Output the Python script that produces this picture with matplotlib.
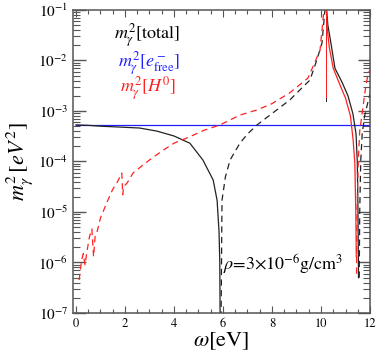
import matplotlib
matplotlib.use("Agg")
import matplotlib.pyplot as plt
from matplotlib.ticker import MultipleLocator, LogLocator, NullFormatter

plt.rcParams['font.family'] = ['STIXGeneral', 'DejaVu Sans']
plt.rcParams['mathtext.fontset'] = 'stix'

# free electron contribution (constant)
free_x = [0.0, 12.0]
free_y = [5.3e-4, 5.3e-4]

# total, positive branch below the first zero
tot1_x = [0.0, 0.5, 1.0, 1.8, 2.6, 3.3, 4.0, 4.65, 5.18, 5.6, 5.76, 5.84, 5.87, 5.885]
tot1_y = [5.3e-4, 5.2e-4, 5.0e-4, 4.8e-4, 4.6e-4, 4.0e-4, 3.2e-4, 2.3e-4, 1.07e-4,
          4.3e-5, 1.7e-5, 4e-6, 1e-6, 5e-8]
# total, negative branch (|value|) up to the pole
tot2_x = [5.92, 5.96, 6.1, 6.29, 6.69, 7.0, 7.39, 8.0, 8.73, 9.2, 9.55, 9.85, 10.04, 10.16, 10.2]
tot2_y = [5e-8, 1.7e-5, 5e-5, 1.07e-4, 2.3e-4, 3.5e-4, 5.3e-4, 8.9e-4, 1.66e-3, 2.8e-3,
          4.1e-3, 1.1e-2, 2.2e-2, 0.1, 0.15]
# total, positive branch after the pole
tot3_x = [10.2, 10.28, 10.37, 10.57, 10.86, 11.1, 11.3, 11.43, 11.48, 11.51, 11.53]
tot3_y = [0.15, 5e-2, 2.8e-2, 7e-3, 3.7e-3, 2.0e-3, 8.9e-4, 3.5e-4, 1e-4, 1e-5, 5e-7]
# total, negative branch after the second zero
tot4_x = [11.56, 11.58, 11.62, 11.68, 11.78, 11.9, 12.0]
tot4_y = [5e-7, 1e-5, 1e-4, 3.5e-4, 8e-4, 1.4e-3, 2.2e-3]

# H0 contribution, negative branch (|value|) up to the pole
h1_x = [0.13, 0.23, 0.30, 0.37, 0.45, 0.55, 0.65, 0.72, 0.78, 0.86, 1.0, 1.3, 1.5, 1.7,
        1.87, 1.91, 1.95, 2.08, 2.33, 2.73, 3.0, 3.5, 4.0, 4.65, 5.2, 5.88, 6.69, 7.39,
        8.0, 8.73, 9.47, 9.96, 10.12, 10.2]
h1_y = [4.5e-7, 1.1e-6, 1.5e-6, 9e-7, 1.65e-6, 3.2e-6, 4.6e-6, 1.3e-6, 3.2e-6, 4e-6,
        7.6e-6, 1.7e-5, 2.8e-5, 4e-5, 5.9e-5, 2.2e-5, 3.2e-5, 3.7e-5, 5.9e-5, 8.5e-5,
        1.07e-4, 1.6e-4, 2.3e-4, 3.1e-4, 4.1e-4, 5.3e-4, 8.3e-4, 1.05e-3, 1.4e-3,
        2.3e-3, 4.5e-3, 1.6e-2, 0.1, 0.16]
# H0, positive branch after the pole
h2_x = [10.2, 10.26, 10.34, 10.5, 10.75, 11.0, 11.2, 11.31, 11.38, 11.42, 11.44]
h2_y = [0.16, 4e-2, 1.8e-2, 7e-3, 3.5e-3, 1.8e-3, 8e-4, 2.7e-4, 9.3e-5, 1e-5, 1.3e-6]
# H0, negative branch after the zero
h3_x = [11.45, 11.47, 11.52, 11.58, 11.67, 11.8, 11.92, 12.0]
h3_y = [6e-7, 1e-5, 1e-4, 4e-4, 8.3e-4, 2.5e-3, 5.5e-3, 6.5e-3]

# thin connector lines at the pole
pole_x = 10.2
pole_tot_low = 1.6e-3
pole_h_low = 1.9e-3

black = '#222222'
red = '#ff2020'
blue = '#2020ff'
dash = (0, (5, 3.5))

fig = plt.figure(figsize=(3.79, 3.61), dpi=100)
ax = fig.add_axes([0.1926, 0.133, 0.7837, 0.8393])

ax.plot(free_x, free_y, color=blue, lw=0.9)

ax.plot([pole_x, pole_x], [1.0, pole_tot_low], color=black, lw=0.7)
ax.plot(tot1_x, tot1_y, color=black, lw=0.9)
ax.plot(tot2_x, tot2_y, color=black, lw=0.9, ls=dash)
ax.plot(tot3_x, tot3_y, color=black, lw=0.9)
ax.plot(tot4_x, tot4_y, color=black, lw=0.9, ls=dash)

ax.plot([pole_x, pole_x], [1.0, pole_h_low], color=red, lw=0.7)
ax.plot(h1_x, h1_y, color=red, lw=0.9, ls=dash)
ax.plot(h2_x, h2_y, color=red, lw=0.9)
ax.plot(h3_x, h3_y, color=red, lw=0.9, ls=dash)

ax.set_yscale('log')
ax.set_xlim(-0.12, 12.0)
ax.set_ylim(1e-7, 1e-1)

ax.xaxis.set_major_locator(MultipleLocator(2))
ax.xaxis.set_minor_locator(MultipleLocator(0.5))
ax.yaxis.set_major_locator(LogLocator(base=10, numticks=10))
ax.yaxis.set_minor_locator(LogLocator(base=10, subs=range(2, 10), numticks=20))
ax.yaxis.set_minor_formatter(NullFormatter())
ax.tick_params(which='both', direction='in', top=True, right=True, color='#555555')
ax.tick_params(axis='y', which='major', length=9, width=1.0, labelsize=11)
ax.tick_params(axis='y', which='minor', length=5, width=0.8)
ax.tick_params(axis='x', which='major', length=5, width=0.8, labelsize=9, pad=4)
ax.tick_params(axis='x', which='minor', length=3, width=0.8)
for s in ax.spines.values():
    s.set_color('#555555')
    s.set_linewidth(1.1)

ax.set_xlabel(r'$\omega$[eV]', fontsize=16, labelpad=0)
ax.set_ylabel(r'$m_\gamma^2\,[eV^2]$', fontsize=16, labelpad=2)

ax.text(0.36, 0.917, r'$m_\gamma^2$[total]', transform=ax.transAxes, ha='right',
        va='center', fontsize=13, color='black')
ax.text(0.36, 0.826, r'$m_\gamma^2[e^-_{\rm free}]$', transform=ax.transAxes, ha='right',
        va='center', fontsize=13, color=blue)
ax.text(0.345, 0.742, r'$m_\gamma^2[H^0]$', transform=ax.transAxes, ha='right',
        va='center', fontsize=13, color=red)
ax.text(0.505, 0.158, r'$\rho$=3$\times$10$^{-6}$g/cm$^3$', transform=ax.transAxes,
        ha='left', va='center', fontsize=13)

fig.savefig('out.png', dpi=100)
